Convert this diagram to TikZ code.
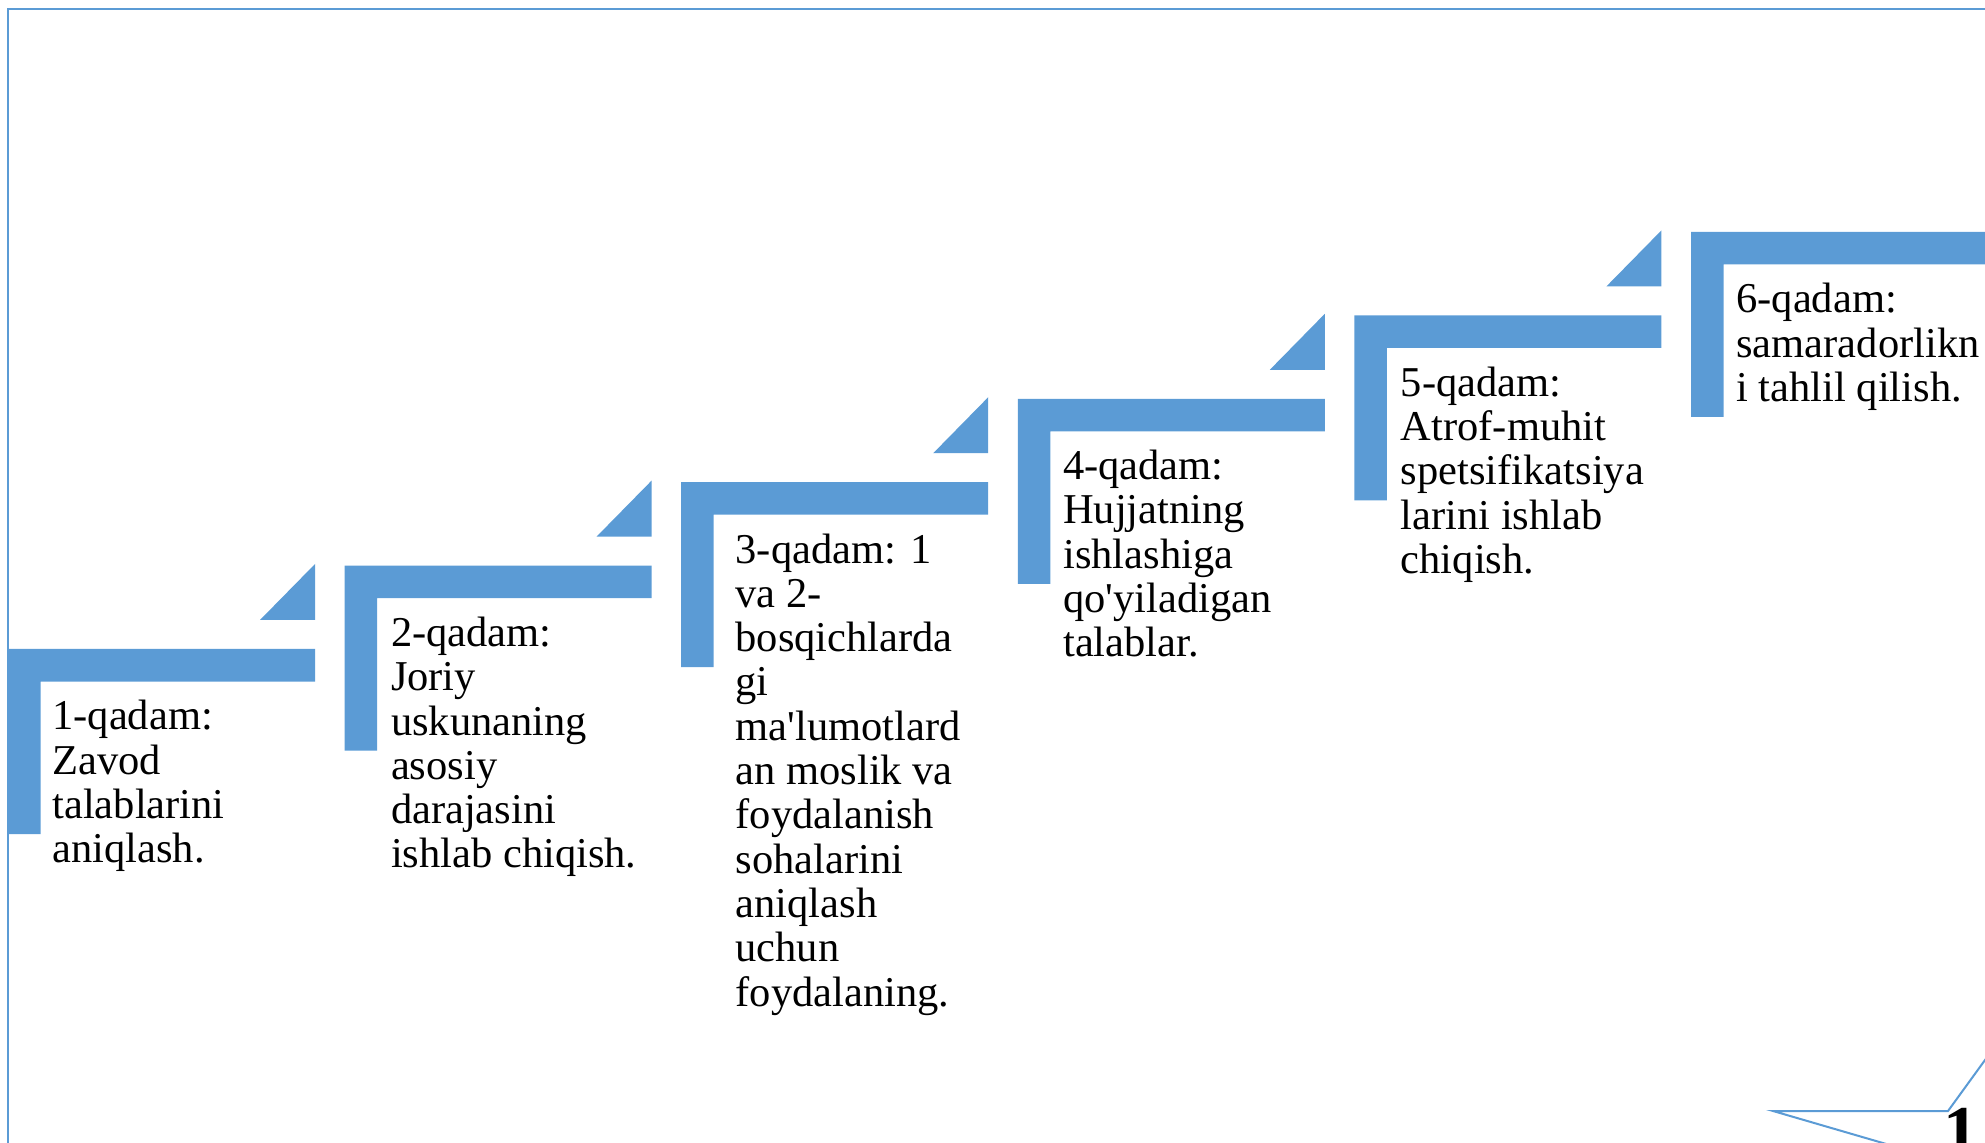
\documentclass[tikz,border=0pt]{standalone}
\usepackage{fontspec}
\setmainfont{Liberation Serif}[Ligatures=TeXOff]
\definecolor{stepblue}{HTML}{5B9BD5}
\begin{document}
\begin{tikzpicture}[x=0.5pt,y=-0.5pt,
  stepbar/.style={fill=stepblue},
  stepcorner/.style={fill=stepblue},
  steptext/.style={anchor=north west, inner sep=0pt, align=left,
    font=\fontsize{21.25pt}{22.15pt}\selectfont},
  frameline/.style={draw=stepblue, line width=1pt}]
\useasboundingbox (0,0) rectangle (1985,1143);
\clip (0,0) rectangle (1985,1143);
% frame
\draw[frameline] (8,1160) -- (8,9) -- (2000,9);
% steps
\foreach \i in {0,...,5}{
  \pgfmathsetmacro\L{8+336.6*\i}
  \pgfmathsetmacro\T{649-83.4*\i}
  \fill[stepbar] (\L,\T) -- ++(307,0) -- ++(0,32.5) -- ++(-274.5,0) -- ++(0,152.5) -- ++(-32.5,0) -- cycle;
}
\foreach \i in {0,...,4}{
  \pgfmathsetmacro\L{8+336.6*\i}
  \pgfmathsetmacro\T{649-83.4*\i}
  \fill[stepcorner] ({\L+252},{\T-29}) -- ({\L+307},{\T-29}) -- ({\L+307},{\T-85}) -- cycle;
}
% texts
\node[steptext] (s1) at (52,700) {1-qadam:\\Zavod\\talablarini\\aniqlash.};
\node[steptext] (s2) at (390.6,616.6) {2-qadam:\\Joriy\\uskunaning\\asosiy\\darajasini\\ishlab chiqish.};
\node[steptext] (s3) at (735.2,533.2) {3-qadam: 1\\va 2-\\bosqichlarda\\gi\\ma'lumotlard\\an moslik va\\foydalanish\\sohalarini\\aniqlash\\uchun\\foydalaning.};
\node[steptext] (s4) at (1062.8,449.8) {4-qadam:\\Hujjatning\\ishlashiga\\qo'yiladigan\\talablar.};
\node[steptext] (s5) at (1400.4,366.4) {5-qadam:\\Atrof-muhit\\spetsifikatsiya\\larini ishlab\\chiqish.};
\node[steptext] (s6) at (1736,283) {6-qadam:\\samaradorlikn\\i tahlil qilish.};
% bottom-right badge
\draw[frameline] (2030,998) -- (1948,1111) -- (1773,1111) -- (1900,1148);
\node[anchor=base west, inner sep=0pt, font=\bfseries\fontsize{35pt}{40pt}\selectfont] (pagenum) at (1943,1154) {1};
\end{tikzpicture}
\end{document}
